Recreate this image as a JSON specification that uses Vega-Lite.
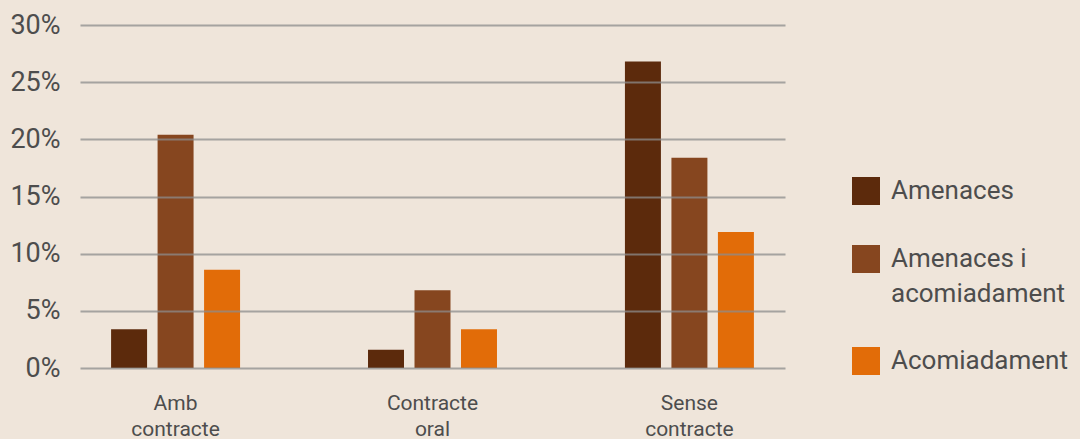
{
  "$schema": "https://vega.github.io/schema/vega-lite/v6.json",
  "width": 705,
  "height": 343,
  "autosize": "none",
  "padding": {"left": 80, "top": 25, "right": 295, "bottom": 71},
  "background": "#efe5da",
  "config": {
    "view": {"stroke": null},
    "font": "Roboto",
    "axis": {"labelFont": "Roboto", "labelColor": "#4d4d4d"},
    "legend": {"labelFont": "Roboto", "labelColor": "#4d4d4d"}
  },
  "data": {
    "values": [
      {"contracte": "Amb contracte", "tipus": "Amenaces", "valor": 0.034},
      {"contracte": "Amb contracte", "tipus": "Amenaces i acomiadament", "valor": 0.204},
      {"contracte": "Amb contracte", "tipus": "Acomiadament", "valor": 0.086},
      {"contracte": "Contracte oral", "tipus": "Amenaces", "valor": 0.016},
      {"contracte": "Contracte oral", "tipus": "Amenaces i acomiadament", "valor": 0.068},
      {"contracte": "Contracte oral", "tipus": "Acomiadament", "valor": 0.034},
      {"contracte": "Sense contracte", "tipus": "Amenaces", "valor": 0.268},
      {"contracte": "Sense contracte", "tipus": "Amenaces i acomiadament", "valor": 0.184},
      {"contracte": "Sense contracte", "tipus": "Acomiadament", "valor": 0.119}
    ]
  },
  "mark": {"type": "bar"},
  "encoding": {
    "x": {
      "field": "contracte",
      "type": "nominal",
      "sort": ["Amb contracte", "Contracte oral", "Sense contracte"],
      "scale": {"paddingInner": 0.498, "paddingOuter": 0.121},
      "axis": {
        "title": null,
        "labelAngle": 0,
        "domain": false,
        "ticks": false,
        "labelFontSize": 21,
        "labelLineHeight": 26,
        "labelPadding": 24,
        "labelBaseline": "top",
        "labelExpr": "split(datum.label, ' ')"
      }
    },
    "xOffset": {
      "field": "tipus",
      "type": "nominal",
      "sort": ["Amenaces", "Amenaces i acomiadament", "Acomiadament"],
      "scale": {"paddingInner": 0.226, "paddingOuter": 0}
    },
    "y": {
      "field": "valor",
      "type": "quantitative",
      "scale": {"domain": [0, 0.3], "nice": false},
      "axis": {
        "title": null,
        "values": [0, 0.05, 0.1, 0.15, 0.2, 0.25, 0.3],
        "format": ".0%",
        "domain": false,
        "ticks": false,
        "labelFontSize": 27,
        "labelPadding": 20,
        "gridColor": "#8c8c8c",
        "gridOpacity": 0.75,
        "gridWidth": 2,
        "zindex": 1
      }
    },
    "color": {
      "field": "tipus",
      "type": "nominal",
      "sort": ["Amenaces", "Amenaces i acomiadament", "Acomiadament"],
      "scale": {
        "domain": ["Amenaces", "Amenaces i acomiadament", "Acomiadament"],
        "range": ["#5c2a0c", "#86461f", "#e26c08"]
      },
      "legend": {
        "title": null,
        "orient": "none",
        "legendX": 772,
        "legendY": 152,
        "symbolType": "square",
        "symbolSize": 784,
        "symbolStrokeWidth": 0,
        "symbolOpacity": 1,
        "labelFontSize": 26,
        "labelOffset": 11,
        "labelLimit": 400,
        "rowPadding": 40,
        "labelExpr": "datum.label == 'Amenaces i acomiadament' ? ['Amenaces i', 'acomiadament'] : datum.label",
        "encode": {
          "labels": {"update": {"lineHeight": {"value": 35}}},
          "symbols": {"update": {"fill": {"signal": "datum.value == 'Acomiadament' ? '#e8880c' : scale('color', datum.value)"}}}
        }
      }
    }
  }
}
